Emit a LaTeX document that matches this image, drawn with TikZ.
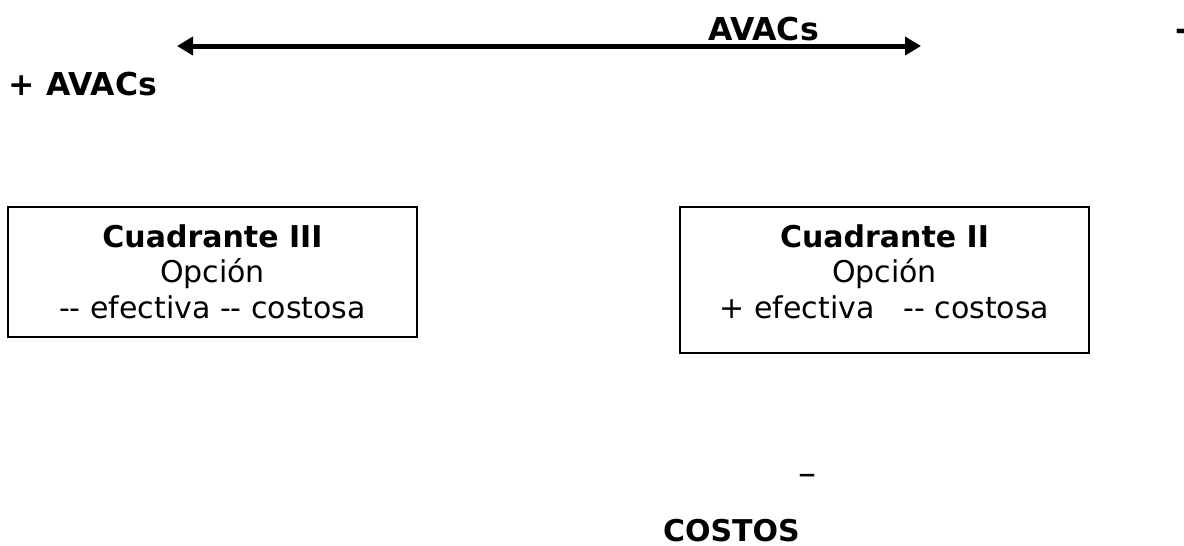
\documentclass[tikz,border=0pt]{standalone}
\usepackage{fontspec}
\setmainfont{DejaVu Sans}
\usetikzlibrary{arrows.meta}

\begin{document}
\begin{tikzpicture}[x=1pt,y=-1pt,line width=2pt,>={Triangle[length=16pt,width=18pt]},
  big/.style={inner sep=0pt,font=\fontsize{31.5}{36}\selectfont\bfseries},
  quad/.style={draw,minimum width=409pt,inner sep=0pt},
  txt/.style={inner sep=0pt,align=center,font=\fontsize{30}{35.5}\selectfont}]
\useasboundingbox (0,0) rectangle (1184,546);
% eje de AVACs
\coordinate (izq) at (177,46);
\coordinate (der) at (921,46);
\draw[line width=5pt,<->] (izq) -- (der);
\node[big,anchor=base west] (avacs) at (707,40) {AVACs};
\node[big,anchor=base west] (menos) at (1174,40) {-};
\node[big,anchor=base west] (mas) at (8,95) {+ AVACs};
% cuadrantes
\node[quad,minimum height=130pt] (q3) at (212.5,272) {};
\node[quad,minimum height=146pt] (q2) at (884.5,280) {};
\node[txt,anchor=base] (t3) at (212.5,318) {\textbf{Cuadrante III}\\Opción\\-{}- efectiva -{}- costosa};
\node[txt,anchor=base] (t2) at (884.5,318) {\textbf{Cuadrante II}\\Opción\\+ efectiva \ \ -{}- costosa};
% eje de costos
\node[txt,anchor=base west,font=\fontsize{36}{40}\selectfont] (raya) at (797,485) {–};
\node[big,anchor=base west,font=\fontsize{30}{35}\selectfont\bfseries] (costos) at (662,541) {COSTOS};
\end{tikzpicture}
\end{document}
